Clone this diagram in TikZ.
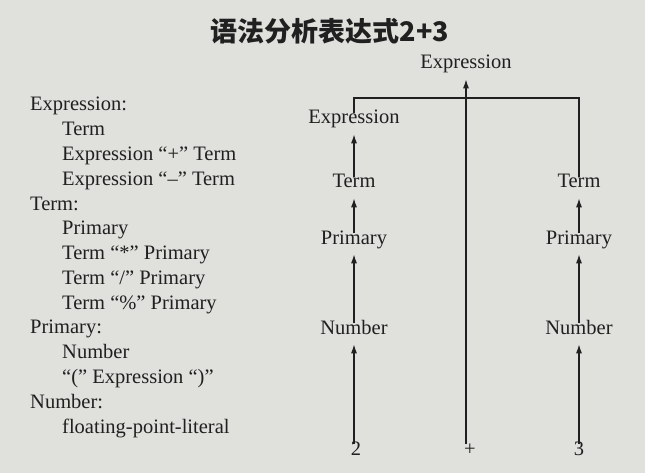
\documentclass[tikz,border=0pt]{standalone}
\usepackage{fontspec}
\setmainfont{Liberation Serif}
\newfontfamily\cjk{Noto Sans CJK SC}
\usetikzlibrary{arrows.meta,calc}
\definecolor{paper}{RGB}{224,224,221}
\definecolor{ink}{RGB}{32,32,32}
\tikzset{
    rule/.style =   {anchor=base west,
                    inner sep=0pt,
                    text=ink,
                    font=\fontsize{20.5}{24}\selectfont},
    sym/.style =    {anchor=base,
                    inner sep=4pt,
                    text height=1.45ex,
                    text depth=.45ex,
                    text=ink,
                    font=\fontsize{20.5}{24}\selectfont},
    up/.style =     {->,
                    draw=ink,
                    line width=1.3pt,
                    shorten >=4pt},
    bar/.style =    {draw=ink,
                    line width=1.3pt},
    >={Latex[length=9pt,width=6pt]}}

\begin{document}
\begin{tikzpicture}[x=1pt,y=-1pt]
    \fill[paper] (0,0) rectangle (645,473);
    \useasboundingbox (0,0) rectangle (645,473);
    % title
    \node[text=ink,font=\cjk\bfseries\fontsize{27}{30}\selectfont] (title) at (330,31) {语法分析表达式2+3};
    % grammar
    \foreach \ind/\txt [count=\i] in {0/Expression:, 1/Term, 1/{Expression “+” Term}, 1/{Expression “–” Term},
                                      0/Term:, 1/Primary, 1/{Term “*” Primary}, 1/{Term “/” Primary}, 1/{Term “\%” Primary},
                                      0/Primary:, 1/Number, 1/{“(” Expression “)”},
                                      0/Number:, 1/floating-point-literal}
        \node[rule] (g\i) at ({30+32*\ind},{111+24.77*(\i-1)}) {\txt};
    % parse tree
    \node[sym] (top)   at (466,69)  {Expression};
    \node[sym] (lexpr) at (354,124) {Expression};
    \node[sym] (lterm) at (354,188) {Term};
    \node[sym] (rterm) at (579,188) {Term};
    \node[sym] (lprim) at (354,244) {Primary};
    \node[sym] (rprim) at (579,244) {Primary};
    \node[sym] (lnum)  at (354,334) {Number};
    \node[sym] (rnum)  at (579,334) {Number};
    \node[sym] (two)   at (356,455) {2};
    \node[sym] (plus)  at (470,455) {+};
    \node[sym] (three) at (579,455) {3};
    \coordinate (join) at (466,98);
    \draw[up] (two.north -| lnum) -- (lnum);
    \draw[up] (lnum)  -- (lprim);
    \draw[up] (lprim) -- (lterm);
    \draw[up] (lterm) -- (lexpr);
    \draw[up] (three) -- (rnum);
    \draw[up] (rnum)  -- (rprim);
    \draw[up] (rprim) -- (rterm);
    \draw[up] (plus.north -| join) -- (top.south -| join);
    \draw[bar] (lexpr.north) |- (join) -| (rterm.north);
\end{tikzpicture}
\end{document}
